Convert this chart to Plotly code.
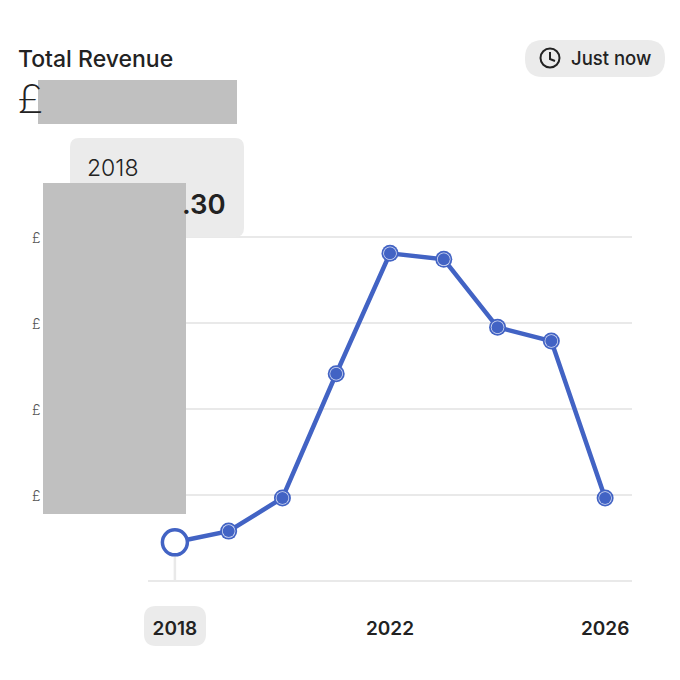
import plotly.graph_objects as go

years = [2018, 2019, 2020, 2021, 2022, 2023, 2024, 2025, 2026]
# real amounts are blanked out in the picture, so values are in gridline units
revenue = [0.45, 0.58, 0.965, 2.41, 3.81, 3.74, 2.95, 2.79, 0.965]
x_ticks = [2018, 2022, 2026]
y_ticks = [0, 1, 2, 3, 4]
y_tick_labels = ["£", "£", "£", "£"]

blue = "#4263c4"
grid = "#e9e9e9"
pill = "#ebebeb"
redact = "#c0c0c0"
text_color = "#222222"
font_name = "Inter"

L, R, T, B = 148, 632, 237, 581


def px(x):
    return (x - L) / (R - L)


def py(y):
    return (B - y) / (B - T)


def rounded(x0, y0, x1, y1, r):
    return (
        f"M {px(x0 + r)} {py(y0)} L {px(x1 - r)} {py(y0)} "
        f"Q {px(x1)} {py(y0)} {px(x1)} {py(y0 + r)} L {px(x1)} {py(y1 - r)} "
        f"Q {px(x1)} {py(y1)} {px(x1 - r)} {py(y1)} L {px(x0 + r)} {py(y1)} "
        f"Q {px(x0)} {py(y1)} {px(x0)} {py(y1 - r)} L {px(x0)} {py(y0 + r)} "
        f"Q {px(x0)} {py(y0)} {px(x0 + r)} {py(y0)} Z"
    )


def box(path_d, color, layer="above"):
    return dict(type="path", path=path_d, xref="paper", yref="paper",
                fillcolor=color, line=dict(width=0), layer=layer)


def rect(x0, y0, x1, y1, color):
    return dict(type="rect", xref="paper", yref="paper", x0=px(x0), x1=px(x1),
                y0=py(y1), y1=py(y0), fillcolor=color, line=dict(width=0), layer="above")


def label(text, x, y, size, weight=400, anchor="left", color=text_color, family=font_name):
    return dict(text=text, x=px(x), y=py(y), xref="paper", yref="paper", showarrow=False,
                xanchor=anchor, yanchor="middle", borderpad=0,
                font=dict(family=family, size=size, color=color, weight=weight))


fig = go.Figure()

fig.add_trace(go.Scatter(x=years, y=revenue, mode="lines", line=dict(color=blue, width=4.5),
                         hoverinfo="skip"))
# ringed dots
fig.add_trace(go.Scatter(x=years[1:], y=revenue[1:], mode="markers",
                         marker=dict(size=17, color=blue), hoverinfo="skip"))
fig.add_trace(go.Scatter(x=years[1:], y=revenue[1:], mode="markers",
                         marker=dict(size=13.5, color="#d5dcf3"), hoverinfo="skip"))
fig.add_trace(go.Scatter(x=years[1:], y=revenue[1:], mode="markers",
                         marker=dict(size=12, color=blue), hoverinfo="skip"))
# selected year
fig.add_trace(go.Scatter(x=years[:1], y=revenue[:1], mode="markers",
                         marker=dict(size=25, color="white", line=dict(color=blue, width=3.5)),
                         hoverinfo="skip"))

shapes = [
    dict(type="line", xref="x", yref="y", x0=years[0], x1=years[0], y0=0, y1=revenue[0],
         line=dict(color=grid, width=2.5), layer="below"),
    box(rounded(525, 40, 665, 77, 18), pill),
    box(rounded(70, 138, 244, 237, 9), pill),
    box(rounded(144, 606, 206, 646, 12), pill, layer="below"),
    rect(38, 80, 237, 124, redact),
    rect(43, 183, 186, 514, redact),
    dict(type="circle", xref="paper", yref="paper", x0=px(540.5), x1=px(559.5),
         y0=py(67.5), y1=py(48.5), line=dict(color=text_color, width=2), layer="above"),
    dict(type="path", xref="paper", yref="paper", layer="above",
         path=f"M {px(550)} {py(52)} L {px(550)} {py(59)} L {px(555)} {py(61)}",
         line=dict(color=text_color, width=2)),
]
# plotly leaves out gridlines that sit exactly on the range ends
for edge in (0, 1):
    shapes.append(dict(type="line", xref="paper", yref="paper", x0=0, x1=1, y0=edge, y1=edge,
                       line=dict(color=grid, width=2), layer="below"))

annotations = [
    label("Total Revenue", 17, 59, 23, 500),
    label("£", 17, 97, 42, 300, family="Lato"),
    label("Just now", 570, 58, 18.5, 500),
    label(str(years[0]), 86, 168, 23, 300),
    label(".30", 227, 204, 27.5, 600, anchor="right"),
]
for tick, text in zip(y_ticks[1:][::-1], y_tick_labels):
    annotations.append(dict(text=text, x=px(43), y=tick, xref="paper", yref="y", showarrow=False,
                            xanchor="right", yanchor="middle",
                            font=dict(family=font_name, size=14, color="#555555", weight=300)))

fig.update_layout(
    width=680,
    height=680,
    margin=dict(l=L, r=680 - R, t=T, b=680 - B, pad=0),
    paper_bgcolor="white",
    plot_bgcolor="white",
    showlegend=False,
    shapes=shapes,
    annotations=annotations,
    xaxis=dict(
        range=[2017.5, 2026.5],
        tickmode="array",
        tickvals=x_ticks,
        ticktext=[str(v) for v in x_ticks],
        tickfont=dict(family=font_name, size=19, color=text_color, weight=600),
        ticks="",
        ticklabelstandoff=34,
        showgrid=False,
        zeroline=False,
        showline=False,
    ),
    yaxis=dict(
        range=[0, 4],
        tickmode="array",
        tickvals=y_ticks,
        showticklabels=False,
        ticks="",
        showgrid=True,
        gridcolor=grid,
        gridwidth=2,
        zeroline=False,
        showline=False,
    ),
)

fig.write_html("out.html", config=dict(displayModeBar=False),
               post_script="document.body.style.margin='0';")
